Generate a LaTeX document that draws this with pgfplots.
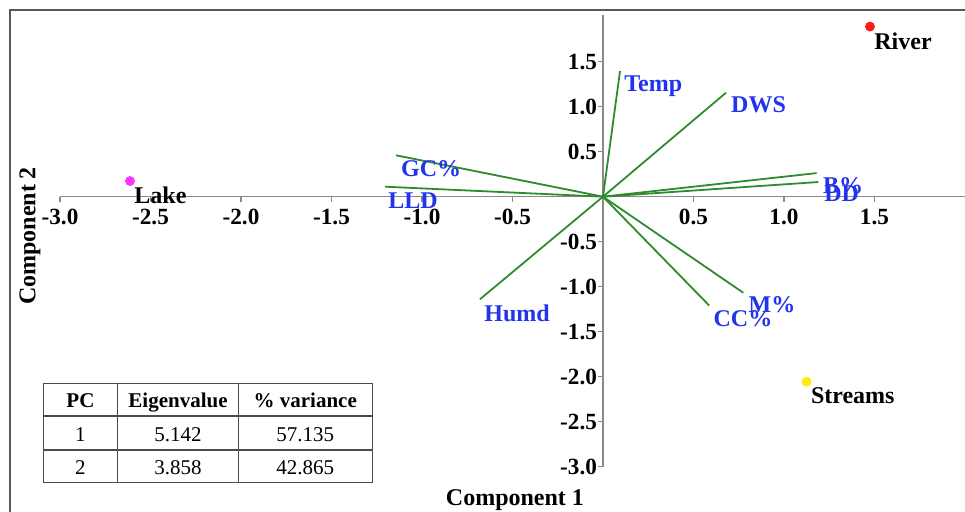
\documentclass[border=0pt]{standalone}
\usepackage{fontspec}
\setmainfont{Liberation Serif}
\usepackage{pgfplots}
\pgfplotsset{compat=1.18}
\definecolor{vecgreen}{HTML}{2E8B2E}
\definecolor{lblue}{HTML}{2233EE}
\definecolor{lakec}{HTML}{FF33FF}
\definecolor{riverc}{HTML}{FF1A1A}
\definecolor{streamc}{HTML}{FFEE00}
\definecolor{axgray}{HTML}{8A8A8A}
\tikzset{
  vec/.style={vecgreen, line width=0.9pt},
  vlab/.style={anchor=base west, inner sep=0pt, text=lblue, font=\fontsize{12}{14}\selectfont\bfseries},
  plab/.style={anchor=north west, inner sep=0pt, text=black, font=\fontsize{12}{14}\selectfont\bfseries, xshift=2pt, yshift=-2.8pt},
}
\begin{document}
\begin{tikzpicture}
\begin{axis}[
  anchor=origin, at={(0pt,0pt)},
  x=90.5pt, y=45pt,
  xmin=-3, xmax=2.0, ymin=-3, ymax=2.02,
  axis lines=middle,
  axis line style={-, axgray, line width=0.7pt},
  xtick={-3,-2.5,-2,-1.5,-1,-0.5,0.5,1,1.5},
  ytick={-3,-2.5,-2,-1.5,-1,-0.5,0.5,1,1.5},
  tick align=outside, major tick length=2.5pt,
  tick style={axgray, line width=0.6pt},
  ticklabel style={font=\fontsize{11.6}{13}\selectfont\bfseries, text=black},
  yticklabel style={xshift=3pt},
  /pgf/number format/fixed,
  /pgf/number format/fixed zerofill,
  /pgf/number format/precision=1,
  /pgf/number format/assume math mode=true,
  clip=false,
]
% loading vectors
\addplot[vec, no markers] coordinates {(0,0) (0.094,1.395)};
\addplot[vec, no markers] coordinates {(0,0) (0.680,1.156)};
\addplot[vec, no markers] coordinates {(0,0) (1.180,0.262)};
\addplot[vec, no markers] coordinates {(0,0) (1.190,0.163)};
\addplot[vec, no markers] coordinates {(0,0) (-1.144,0.460)};
\addplot[vec, no markers] coordinates {(0,0) (-1.204,0.111)};
\addplot[vec, no markers] coordinates {(0,0) (-0.680,-1.140)};
\addplot[vec, no markers] coordinates {(0,0) (0.587,-1.210)};
\addplot[vec, no markers] coordinates {(0,0) (0.775,-1.067)};
% labels of vectors
\node[vlab] at (axis cs:0.116,1.174) {Temp};
\node[vlab] at (axis cs:0.706,0.930) {DWS};
\node[vlab] at (axis cs:1.214,0.030) {B\%};
\node[vlab] at (axis cs:1.221,-0.048) {DD};
\node[vlab] at (axis cs:-1.117,0.222) {GC\%};
\node[vlab] at (axis cs:-1.188,-0.126) {LLD};
\node[vlab] at (axis cs:-0.657,-1.392) {Humd};
\node[vlab] at (axis cs:0.609,-1.441) {CC\%};
\node[vlab] at (axis cs:0.803,-1.292) {M\%};
% sites
\addplot[only marks, mark=*, mark size=2.25pt, color=lakec, mark options={draw=lakec, fill=lakec}] coordinates {(-2.613,0.174)};
\addplot[only marks, mark=*, mark size=2.25pt, color=riverc, mark options={draw=riverc, fill=riverc}] coordinates {(1.475,1.890)};
\addplot[only marks, mark=*, mark size=2.25pt, color=streamc, mark options={draw=streamc, fill=streamc}] coordinates {(1.125,-2.056)};
\node[plab] at (axis cs:-2.613,0.174) {Lake};
\node[plab] at (axis cs:1.475,1.890) {River};
\node[plab] at (axis cs:1.125,-2.056) {Streams};
\end{axis}
\begin{scope}[shift={(-301.5pt,98.35pt)}, x=0.5pt, y=-0.5pt]
  \coordinate (bbA) at (0,0);
  \coordinate (bbB) at (965,512);
  \draw[black!65, line width=1pt] (10,10) rectangle (1000,560);
  \node[rotate=90, font=\fontsize{12}{14}\selectfont\bfseries] at (30,236) {Component 2};
  \node[font=\fontsize{12}{14}\selectfont\bfseries] at (515,500) {Component 1};
  % table
  \draw[black!70, line width=0.7pt] (43.3,383.3) rectangle (372.3,482.7);
  \draw[black!70, line width=0.7pt] (43.3,416) -- (372.3,416);
  \draw[black!70, line width=0.7pt] (43.3,450) -- (372.3,450);
  \draw[black!70, line width=0.7pt] (117.7,383.3) -- (117.7,482.7);
  \draw[black!70, line width=0.7pt] (238.3,383.3) -- (238.3,482.7);
  \begin{scope}[every node/.style={anchor=base, inner sep=0pt, font=\fontsize{10.5}{12}\selectfont}]
    \node[font=\fontsize{10.5}{12}\selectfont\bfseries] at (80.5,407.3) {PC};
    \node[font=\fontsize{10.5}{12}\selectfont\bfseries] at (178,407.3) {Eigenvalue};
    \node[font=\fontsize{10.5}{12}\selectfont\bfseries] at (305.3,407.3) {\% variance};
    \node at (80.5,441.7) {1};
    \node at (178,441.7) {5.142};
    \node at (305.3,441.7) {57.135};
    \node at (80.5,475) {2};
    \node at (178,475) {3.858};
    \node at (305.3,475) {42.865};
  \end{scope}
\end{scope}
\pgfresetboundingbox
\path[use as bounding box] (bbA) rectangle (bbB);
\end{tikzpicture}
\end{document}
